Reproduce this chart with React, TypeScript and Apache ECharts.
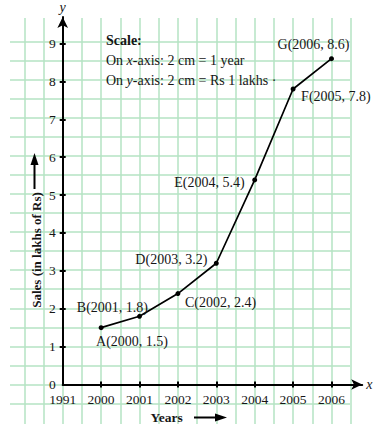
import React, { useEffect, useRef } from 'react';
import * as echarts from 'echarts';

// ---- data ----
const xTickLabels = ['1991', '2000', '2001', '2002', '2003', '2004', '2005', '2006'];
const years = ['2000', '2001', '2002', '2003', '2004', '2005', '2006'];
const pointNames = ['A', 'B', 'C', 'D', 'E', 'F', 'G'];
const sales = [1.5, 1.8, 2.4, 3.2, 5.4, 7.8, 8.6];
const yTickValues = [0, 1, 2, 3, 4, 5, 6, 7, 8, 9];

// label placement (style only)
const labelPlacement: { align: string; offset: number[] }[] = [
  { align: 'left', offset: [-5, 14] },
  { align: 'right', offset: [8.5, -9] },
  { align: 'left', offset: [7, 9] },
  { align: 'right', offset: [-9, -3.5] },
  { align: 'right', offset: [-10, 3] },
  { align: 'left', offset: [8, 8] },
  { align: 'center', offset: [-18, -14] },
];

const FONT = '"Liberation Serif", "Times New Roman", serif';
const GREEN = '#b5e3c3';
const INK = '#161616';

// layout geometry
const X0 = 62.7;
const UX = 38.4;
const Y0 = 384.5;
const UY = 38.1;
const XMAX = 7.8;
const YMAX = 9.7;

export default function App() {
  const ref = useRef<HTMLDivElement>(null);

  useEffect(() => {
    if (!ref.current) return;
    const chart = echarts.init(ref.current, undefined, { renderer: 'svg' });

    const xIdx = xTickLabels.map((_, i) => i);
    const seriesData = years.map((y, i) => ({
      value: [xTickLabels.indexOf(y), sales[i]],
      label: {
        show: true,
        position: 'inside',
        align: labelPlacement[i].align,
        verticalAlign: 'middle',
        offset: labelPlacement[i].offset,
        formatter: `${pointNames[i]}(${years[i]}, ${sales[i]})`,
        fontFamily: FONT,
        fontSize: 14,
        color: INK,
      },
    }));

    const hidden = {
      axisLine: { show: false },
      axisTick: { show: false },
      axisLabel: { show: false },
    };

    const option: any = {
      animation: false,
      backgroundColor: '#ffffff',
      grid: [
        {
          left: X0,
          top: Y0 - YMAX * UY,
          width: XMAX * UX,
          height: YMAX * UY,
          show: false,
        },
        {
          left: X0 - UX,
          top: 18,
          width: 8.5 * UX,
          height: 406,
          show: false,
        },
        {
          left: 10,
          top: Y0 - 9 * UY,
          width: 340,
          height: 9.5 * UY,
          show: false,
        },
      ],
      xAxis: [
        {
          gridIndex: 0,
          type: 'value',
          min: 0,
          max: XMAX,
          interval: 1,
          position: 'bottom',
          z: 4,
          axisLine: {
            show: true,
            symbol: ['none', 'arrow'],
            symbolSize: [8, 11],
            lineStyle: { color: '#000', width: 2 },
          },
          axisTick: {
            show: true,
            length: 3,
            customValues: xIdx.slice(1),
            lineStyle: { color: '#000', width: 2 },
          },
          axisLabel: {
            show: true,
            customValues: xIdx,
            formatter: (v: number) => xTickLabels[Math.round(v)] ?? '',
            margin: 8,
            fontFamily: FONT,
            fontSize: 13.5,
            color: INK,
          },
          splitLine: { show: false },
          name: 'x',
          nameLocation: 'end',
          nameGap: 4,
          nameTextStyle: { fontFamily: FONT, fontStyle: 'italic', fontSize: 14, color: INK },
        },
        {
          gridIndex: 0,
          type: 'value',
          min: 0,
          max: XMAX,
          interval: 1,
          position: 'bottom',
          z: 4,
          axisLine: { show: false },
          axisTick: {
            show: true,
            inside: true,
            length: 3,
            customValues: xIdx.slice(1),
            lineStyle: { color: '#000', width: 2 },
          },
          axisLabel: { show: false },
          splitLine: { show: false },
        },
        {
          gridIndex: 1,
          type: 'value',
          min: -1,
          max: 7.5,
          interval: 0.5,
          z: 0,
          ...hidden,
          splitLine: { show: true, lineStyle: { color: GREEN, width: 1.5 } },
        },
        {
          gridIndex: 2,
          type: 'value',
          min: 0,
          max: 1,
          z: 0,
          ...hidden,
          splitLine: { show: false },
        },
      ],
      yAxis: [
        {
          gridIndex: 0,
          type: 'value',
          min: 0,
          max: YMAX,
          interval: 1,
          position: 'left',
          z: 4,
          axisLine: {
            show: true,
            symbol: ['none', 'arrow'],
            symbolSize: [8, 11],
            lineStyle: { color: '#000', width: 2 },
          },
          axisTick: {
            show: true,
            length: 3,
            customValues: yTickValues.slice(1),
            lineStyle: { color: '#000', width: 2 },
          },
          axisLabel: {
            show: true,
            customValues: yTickValues,
            margin: 7,
            fontFamily: FONT,
            fontSize: 13.5,
            color: INK,
          },
          splitLine: { show: false },
          name: 'y',
          nameLocation: 'end',
          nameGap: 3,
          nameTextStyle: { fontFamily: FONT, fontStyle: 'italic', fontSize: 14, color: INK },
        },
        {
          gridIndex: 0,
          type: 'value',
          min: 0,
          max: YMAX,
          interval: 1,
          position: 'left',
          z: 4,
          axisLine: { show: false },
          axisTick: {
            show: true,
            inside: true,
            length: 3,
            customValues: yTickValues.slice(1),
            lineStyle: { color: '#000', width: 2 },
          },
          axisLabel: { show: false },
          splitLine: { show: false },
        },
        {
          gridIndex: 1,
          type: 'value',
          min: 0,
          max: 1,
          z: 0,
          ...hidden,
          splitLine: { show: false },
        },
        {
          gridIndex: 2,
          type: 'value',
          min: -0.5,
          max: 9,
          interval: 0.5,
          z: 0,
          ...hidden,
          splitLine: { show: true, lineStyle: { color: GREEN, width: 1.5 } },
        },
      ],
      series: [
        {
          type: 'line',
          xAxisIndex: 0,
          yAxisIndex: 0,
          z: 6,
          data: seriesData,
          symbol: 'circle',
          symbolSize: 5,
          showAllSymbol: true,
          itemStyle: { color: '#000' },
          lineStyle: { color: '#000', width: 1.7 },
        },
      ],
      graphic: [
        {
          type: 'text',
          x: 106,
          y: 40,
          z: 10,
          style: {
            text: 'Scale:',
            fontFamily: FONT,
            fontSize: 14,
            fontWeight: 'bold',
            fill: INK,
            verticalAlign: 'middle',
          },
        },
        {
          type: 'text',
          x: 106,
          y: 60,
          z: 10,
          style: {
            text: 'On {i|x}-axis: 2 cm = 1 year',
            fontFamily: FONT,
            fontSize: 14,
            fill: INK,
            verticalAlign: 'middle',
            rich: { i: { fontFamily: FONT, fontSize: 14, fontStyle: 'italic', fill: INK } },
          },
        },
        {
          type: 'text',
          x: 106,
          y: 80,
          z: 10,
          style: {
            text: 'On {i|y}-axis: 2 cm = Rs 1 lakhs ·',
            fontFamily: FONT,
            fontSize: 14,
            fill: INK,
            verticalAlign: 'middle',
            rich: { i: { fontFamily: FONT, fontSize: 14, fontStyle: 'italic', fill: INK } },
          },
        },
        {
          type: 'text',
          x: 36,
          y: 250,
          rotation: Math.PI / 2,
          z: 10,
          style: {
            text: 'Sales (in lakhs of Rs)',
            fontFamily: FONT,
            fontSize: 13,
            fontWeight: 'bold',
            fill: INK,
            align: 'center',
            verticalAlign: 'middle',
          },
        },
        {
          type: 'line',
          z: 10,
          shape: { x1: 34.5, y1: 189, x2: 34.5, y2: 162 },
          style: { stroke: '#000', lineWidth: 2 },
        },
        {
          type: 'polygon',
          z: 10,
          shape: { points: [[30.5, 165], [38.5, 165], [34.5, 153]] },
          style: { fill: '#000' },
        },
        {
          type: 'text',
          x: 166.7,
          y: 417,
          z: 10,
          style: {
            text: 'Years',
            fontFamily: FONT,
            fontSize: 13.5,
            fontWeight: 'bold',
            fill: INK,
            align: 'center',
            verticalAlign: 'middle',
          },
        },
        {
          type: 'line',
          z: 10,
          shape: { x1: 194, y1: 417.5, x2: 218, y2: 417.5 },
          style: { stroke: '#000', lineWidth: 2 },
        },
        {
          type: 'polygon',
          z: 10,
          shape: { points: [[215, 413.5], [215, 421.5], [227, 417.5]] },
          style: { fill: '#000' },
        },
      ],
    };

    chart.setOption(option);
    return () => {
      chart.dispose();
    };
  }, []);

  return (
    <div
      ref={ref}
      style={{ position: 'fixed', left: 0, top: 0, width: 387, height: 435, background: '#fff' }}
    />
  );
}
